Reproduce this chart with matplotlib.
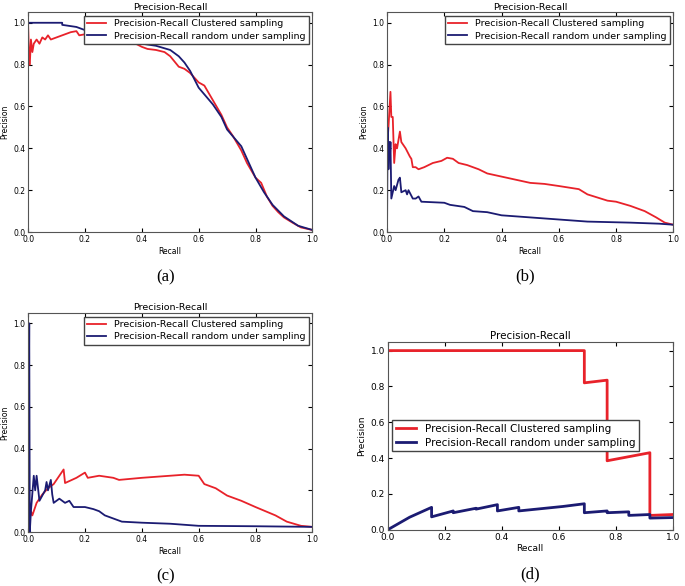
import matplotlib
matplotlib.use("Agg")
import matplotlib.pyplot as plt

RED = "#e8222a"
BLUE = "#1b1b72"
LABEL_C = "Precision-Recall Clustered sampling"
LABEL_R = "Precision-Recall random under sampling"

# (a)
a_c_recall = [0.0, 0.0, 0.004, 0.006, 0.01, 0.015, 0.02, 0.03, 0.04, 0.05, 0.06, 0.07, 0.08,
              0.1, 0.15, 0.17, 0.18, 0.2, 0.25, 0.3, 0.35, 0.4, 0.42, 0.45, 0.48, 0.5, 0.53,
              0.55, 0.57, 0.6, 0.62, 0.65, 0.68, 0.7, 0.72, 0.75, 0.77, 0.8, 0.82, 0.84,
              0.86, 0.88, 0.9, 0.93, 0.96, 1.0]
a_c_prec = [1.0, 1.0, 0.8, 0.8, 0.92, 0.86, 0.9, 0.92, 0.9, 0.93, 0.92, 0.94, 0.92,
            0.93, 0.955, 0.96, 0.94, 0.945, 0.94, 0.93, 0.92, 0.885, 0.875, 0.87, 0.86, 0.84, 0.79,
            0.78, 0.76, 0.715, 0.7, 0.63, 0.56, 0.5, 0.46, 0.39, 0.33, 0.26, 0.235, 0.17,
            0.125, 0.095, 0.07, 0.045, 0.022, 0.01]
a_r_recall = [0.0, 0.12, 0.12, 0.17, 0.2, 0.22, 0.25, 0.3, 0.4, 0.45, 0.5, 0.53, 0.55, 0.57,
              0.6, 0.65, 0.68, 0.7, 0.75, 0.78, 0.8, 0.83, 0.86, 0.9, 0.95, 1.0]
a_r_prec = [1.0, 1.0, 0.99, 0.98, 0.965, 0.95, 0.94, 0.93, 0.9, 0.89, 0.87, 0.84, 0.81, 0.77,
            0.69, 0.61, 0.55, 0.49, 0.41, 0.32, 0.26, 0.19, 0.13, 0.075, 0.03, 0.01]

# (b)
b_c_recall = [0.0, 0.005, 0.012, 0.015, 0.02, 0.025, 0.03, 0.035, 0.045, 0.05, 0.065, 0.08,
              0.085, 0.09, 0.1, 0.11, 0.13, 0.16, 0.19, 0.21, 0.23, 0.25, 0.28, 0.32, 0.35,
              0.4, 0.45, 0.5, 0.55, 0.6, 0.67, 0.7, 0.77, 0.8, 0.85, 0.9, 0.94, 0.97, 1.0]
b_c_prec = [0.4, 0.5, 0.67, 0.55, 0.55, 0.33, 0.42, 0.4, 0.48, 0.43, 0.4, 0.36,
            0.35, 0.31, 0.31, 0.3, 0.31, 0.33, 0.34, 0.355, 0.35, 0.33, 0.32, 0.3, 0.28,
            0.265, 0.25, 0.235, 0.23, 0.22, 0.205, 0.18, 0.15, 0.145, 0.125, 0.1, 0.07, 0.045, 0.035]
b_r_recall = [0.0, 0.002, 0.005, 0.008, 0.01, 0.012, 0.015, 0.025, 0.03, 0.04, 0.045, 0.05,
              0.065, 0.07, 0.075, 0.09, 0.1, 0.11, 0.12, 0.2, 0.22, 0.27, 0.3, 0.35, 0.4,
              0.5, 0.6, 0.7, 0.85, 0.95, 1.0]
b_r_prec = [0.0, 0.5, 0.3, 0.43, 0.35, 0.43, 0.16, 0.22, 0.2, 0.25, 0.26, 0.19,
            0.2, 0.18, 0.2, 0.16, 0.16, 0.17, 0.145, 0.14, 0.13, 0.12, 0.1, 0.095, 0.08,
            0.07, 0.06, 0.05, 0.045, 0.04, 0.035]

# (c)
c_c_recall = [0.0, 0.01, 0.015, 0.03, 0.05, 0.07, 0.09, 0.11, 0.125, 0.13, 0.17, 0.2, 0.21,
              0.25, 0.3, 0.32, 0.4, 0.45, 0.5, 0.55, 0.6, 0.62, 0.66, 0.7, 0.75, 0.8, 0.87,
              0.91, 0.96, 1.0]
c_c_prec = [0.0, 0.1, 0.08, 0.14, 0.18, 0.21, 0.23, 0.27, 0.3, 0.235, 0.26, 0.285, 0.26,
            0.27, 0.26, 0.25, 0.26, 0.265, 0.27, 0.275, 0.27, 0.23, 0.21, 0.175, 0.15, 0.12, 0.08,
            0.05, 0.03, 0.025]
c_r_recall = [0.0, 0.004, 0.006, 0.01, 0.02, 0.025, 0.03, 0.04, 0.06, 0.065, 0.07, 0.08, 0.085,
              0.09, 0.11, 0.13, 0.145, 0.16, 0.2, 0.23, 0.25, 0.27, 0.3, 0.33, 0.4, 0.5, 0.6,
              0.8, 1.0]
c_r_prec = [0.0, 1.0, 0.0, 0.1, 0.27, 0.2, 0.27, 0.15, 0.2, 0.24, 0.2, 0.25, 0.18,
            0.14, 0.16, 0.14, 0.15, 0.12, 0.12, 0.11, 0.1, 0.08, 0.065, 0.05, 0.045, 0.04, 0.03,
            0.028, 0.025]

# (d)
d_c_recall = [0.0, 0.69, 0.69, 0.77, 0.77, 0.92, 0.92, 1.0]
d_c_prec = [1.0, 1.0, 0.82, 0.835, 0.385, 0.43, 0.08, 0.085]
d_r_recall = [0.0, 0.077, 0.154, 0.154, 0.23, 0.23, 0.31, 0.31, 0.385, 0.385, 0.46, 0.46,
              0.615, 0.69, 0.69, 0.77, 0.77, 0.846, 0.846, 0.92, 0.92, 1.0]
d_r_prec = [0.0, 0.07, 0.125, 0.072, 0.105, 0.095, 0.12, 0.115, 0.14, 0.105, 0.125, 0.105,
            0.13, 0.145, 0.095, 0.105, 0.095, 0.1, 0.08, 0.085, 0.065, 0.068]

# rect, data, legend loc, tick size, legend size, title size, line width, caption pos
panels = [
    ((0.041, 0.604, 0.415, 0.375), a_c_recall, a_c_prec, a_r_recall, a_r_prec,
     "upper right", 5.5, 6.8, 6.8, 1.3, (0.241, 0.527), "(a)"),
    ((0.565, 0.604, 0.418, 0.375), b_c_recall, b_c_prec, b_r_recall, b_r_prec,
     "upper right", 5.5, 6.8, 6.8, 1.3, (0.766, 0.529), "(b)"),
    ((0.041, 0.092, 0.415, 0.374), c_c_recall, c_c_prec, c_r_recall, c_r_prec,
     "upper right", 5.5, 6.8, 6.8, 1.3, (0.241, 0.017), "(c)"),
    ((0.566, 0.096, 0.416, 0.321), d_c_recall, d_c_prec, d_r_recall, d_r_prec,
     "center left", 6.5, 7.5, 7.4, 2.0, (0.774, 0.0205), "(d)"),
]

fig = plt.figure(figsize=(6.85, 5.86), dpi=100)
for rect, cx, cy, rx, ry, loc, fs, lfs, tfs, lw, cap_xy, cap in panels:
    ax = fig.add_axes(rect)
    ax.plot(cx, cy, color=RED, lw=lw, label=LABEL_C)
    ax.plot(rx, ry, color=BLUE, lw=lw, label=LABEL_R)
    ax.set_xlim(0, 1)
    ax.set_ylim(0, 1.05)
    ax.set_xticks([0, 0.2, 0.4, 0.6, 0.8, 1.0])
    ax.set_yticks([0, 0.2, 0.4, 0.6, 0.8, 1.0])
    ax.tick_params(direction="in", top=True, right=True, labelsize=fs, length=3, pad=2)
    ax.set_title("Precision-Recall", fontsize=tfs, pad=2)
    ax.set_xlabel("Recall", fontsize=fs, labelpad=2)
    ax.set_ylabel("Precision", fontsize=fs, labelpad=3)
    for s in ax.spines.values():
        s.set_color("#555555")
    leg = ax.legend(loc=loc, fontsize=lfs, fancybox=False, framealpha=1,
                    borderaxespad=0.4, handlelength=2, borderpad=0.35, labelspacing=0.35)
    leg.get_frame().set_edgecolor("#444444")
    fig.text(cap_xy[0], cap_xy[1], cap, ha="center", va="center",
             fontsize=12, family="Liberation Serif")

fig.savefig("out.png", dpi=100)
